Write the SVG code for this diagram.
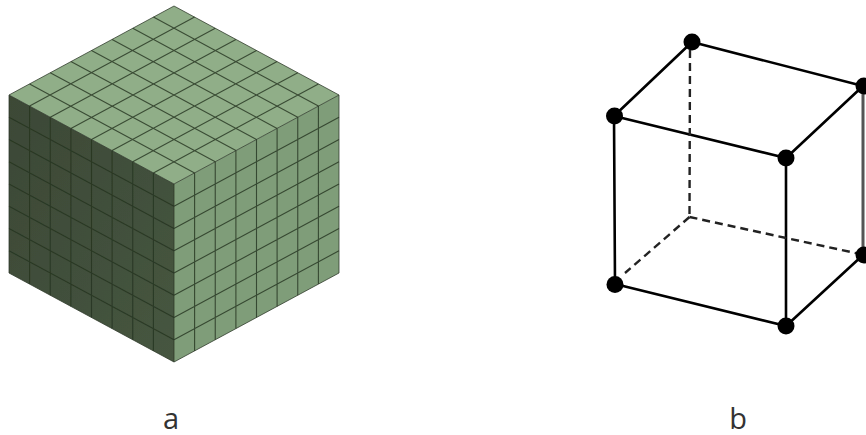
<svg xmlns="http://www.w3.org/2000/svg" width="866" height="435" viewBox="0 0 866 435">
<style>
.grid{fill:none;stroke:#24331f;stroke-width:1.1;stroke-opacity:.8}
.outline{fill:none;stroke:#2b3527;stroke-width:1;stroke-opacity:.75}
.edge{fill:none;stroke:#000;stroke-width:2.6;stroke-linecap:round}
.edge-grey{fill:none;stroke:#555;stroke-width:3}
.dash{fill:none;stroke:#222;stroke-width:2.4;stroke-dasharray:8 5}
.node{fill:#050505}
.label{font-family:"Open Sans",sans-serif;font-size:29px;fill:#333;text-anchor:middle}
</style>
<defs>
<filter id="soft" x="-5%" y="-5%" width="110%" height="110%"><feGaussianBlur stdDeviation="0.7"/></filter>
<filter id="softer" x="-2%" y="-2%" width="104%" height="104%"><feGaussianBlur stdDeviation="0.35"/></filter>
<linearGradient id="leftFace" x1="0" y1="0" x2="1" y2="1"><stop offset="0" stop-color="#3c4836"/><stop offset="1" stop-color="#465640"/></linearGradient>
</defs>
<rect width="866" height="435" fill="#fff"/>
<g id="mesh-cube" filter="url(#softer)">
<polygon points="174,6 339,95 174,184 9,95" fill="#90ae88"/>
<polygon points="9,95 174,184 174,362 9,273" fill="url(#leftFace)"/>
<polygon points="174,184 339,95 339,273 174,362" fill="#7f9d79"/>
<path class="grid" d="M29.6 106.1L194.6 17.1M50.25 117.25L215.25 28.25M70.9 128.4L235.9 39.4M91.5 139.5L256.5 50.5M112.1 150.6L277.1 61.6M132.75 161.75L297.75 72.75M153.4 172.9L318.4 83.9M29.6 83.9L194.6 172.9M50.25 72.75L215.25 161.75M70.9 61.6L235.9 150.6M91.5 50.5L256.5 139.5M112.1 39.4L277.1 128.4M132.75 28.25L297.75 117.25M153.4 17.1L318.4 106.1"/>
<path class="grid" d="M29.6 106.1V284.1M50.25 117.25V295.25M70.9 128.4V306.4M91.5 139.5V317.5M112.1 150.6V328.6M132.75 161.75V339.75M153.4 172.9V350.9M9 117.25L174 206.25M9 139.5L174 228.5M9 161.75L174 250.75M9 184L174 273M9 206.25L174 295.25M9 228.5L174 317.5M9 250.75L174 339.75"/>
<path class="grid" d="M194.6 172.9V350.9M215.25 161.75V339.75M235.9 150.6V328.6M256.5 139.5V317.5M277.1 128.4V306.4M297.75 117.25V295.25M318.4 106.1V284.1M174 206.25L339 117.25M174 228.5L339 139.5M174 250.75L339 161.75M174 273L339 184M174 295.25L339 206.25M174 317.5L339 228.5M174 339.75L339 250.75"/>
<path class="outline" d="M174 6L339 95V273L174 362L9 273V95ZM9 95L174 184L339 95M174 184V362"/>
</g>
<g id="connectors" filter="url(#soft)">
<path class="edge" d="M692 42L614 116M692 42L863 86M614 116L786 158M863 86L786 158M614 116L615 284M786 158L786 326M615 284L786 326M863 255L786 326"/>
<path class="edge-grey" d="M863 86V255"/>
<path class="dash" d="M690 50L689.5 216"/>
<path class="dash" d="M689.5 217L860 254"/>
<path class="dash" d="M689.5 217L625 273"/>
</g>
<g filter="url(#soft)">
<g id="node-back-top"><circle class="node" cx="692" cy="42" r="8.5"/></g>
<g id="node-left-top"><circle class="node" cx="614.5" cy="116" r="8.5"/></g>
<g id="node-right-top"><circle class="node" cx="864" cy="86" r="8.5"/></g>
<g id="node-front-top"><circle class="node" cx="786" cy="158" r="8.5"/></g>
<g id="node-left-bottom"><circle class="node" cx="615" cy="284.5" r="8.5"/></g>
<g id="node-front-bottom"><circle class="node" cx="786" cy="326" r="8.5"/></g>
<g id="node-right-bottom"><circle class="node" cx="864" cy="255" r="8.5"/></g>
</g>
<text class="label" x="171" y="428.5">a</text>
<text class="label" x="738" y="428.5">b</text>
</svg>
